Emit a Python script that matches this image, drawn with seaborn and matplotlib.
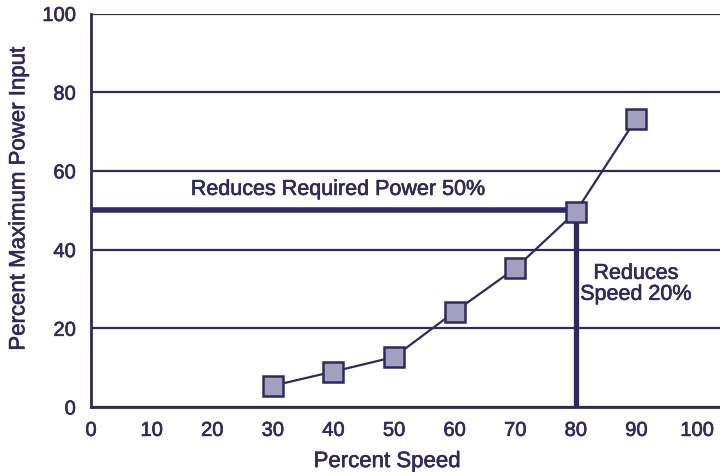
import numpy as np
import pandas as pd
import seaborn as sns
from matplotlib import pyplot as plt
from matplotlib import patheffects as pe

# values
speed_pct = [30, 40, 50, 60, 70, 80, 90]
power_pct = [5.4, 9.0, 12.7, 24.2, 35.2, 49.6, 73.3]
x_ticks = [0, 10, 20, 30, 40, 50, 60, 70, 80, 90, 100]
y_ticks = [0, 20, 40, 60, 80, 100]
target_speed = 80
target_power = 50

navy = "#2e2a5e"
marker_fill = "#a39fbf"

sns.set_theme(style="white")
plt.rcParams["font.family"] = ["Liberation Sans", "DejaVu Sans"]

fig = plt.figure(figsize=(7.2, 4.76), dpi=100)
ax = fig.add_axes([91 / 720, 69 / 476, 629 / 720, 393.5 / 476])

df = pd.DataFrame({"speed": speed_pct, "power": power_pct})

# guide lines for the 80% speed / 50% power point
ax.plot([0, target_speed], [target_power, target_power], color=navy, lw=4,
        solid_capstyle="butt", zorder=2)
ax.plot([target_speed, target_speed], [0, target_power], color=navy, lw=3.8,
        solid_capstyle="butt", zorder=2)

sns.lineplot(data=df, x="speed", y="power", ax=ax, color=navy, lw=1.6,
             marker="s", markersize=14, markerfacecolor=marker_fill,
             markeredgecolor=navy, markeredgewidth=1.8, zorder=4)

ax.set_xlim(0, 629 / 6.06)
ax.set_ylim(0, 100)
ax.set_xticks(x_ticks)
ax.set_yticks(y_ticks)
ax.yaxis.grid(True, color=navy, lw=1.6)
ax.xaxis.grid(False)
ax.set_axisbelow(True)

for side in ["top", "right"]:
    ax.spines[side].set_visible(False)
for side in ["left", "bottom"]:
    ax.spines[side].set_color(navy)
    ax.spines[side].set_linewidth(2.0)

ax.tick_params(axis="both", length=0, labelsize=14.5, colors=navy, labelcolor=navy)
ax.tick_params(axis="y", pad=11)
ax.tick_params(axis="x", pad=10)

ax.set_xlabel("Percent Speed", fontsize=16, color=navy)
ax.set_ylabel("Percent Maximum Power Input", fontsize=16, color=navy)
ax.xaxis.set_label_coords(0.471, -0.112)
ax.yaxis.set_label_coords(-0.098, 0.53)

ax.text(40.7, 53.9, "Reduces Required Power 50%", ha="center", va="baseline",
        fontsize=15.5, color=navy)
ax.text(89.9, 31.3, "Reduces\nSpeed 20%", ha="center", va="center",
        fontsize=15.5, color=navy, linespacing=1.0)

# the original lettering is a medium weight, a thin stroke thickens it a bit
medium = [pe.withStroke(linewidth=0.45, foreground=navy)]
for t in ax.texts + ax.get_xticklabels() + ax.get_yticklabels() + [ax.xaxis.label, ax.yaxis.label]:
    t.set_path_effects(medium)

fig.savefig("out.png", dpi=100)
